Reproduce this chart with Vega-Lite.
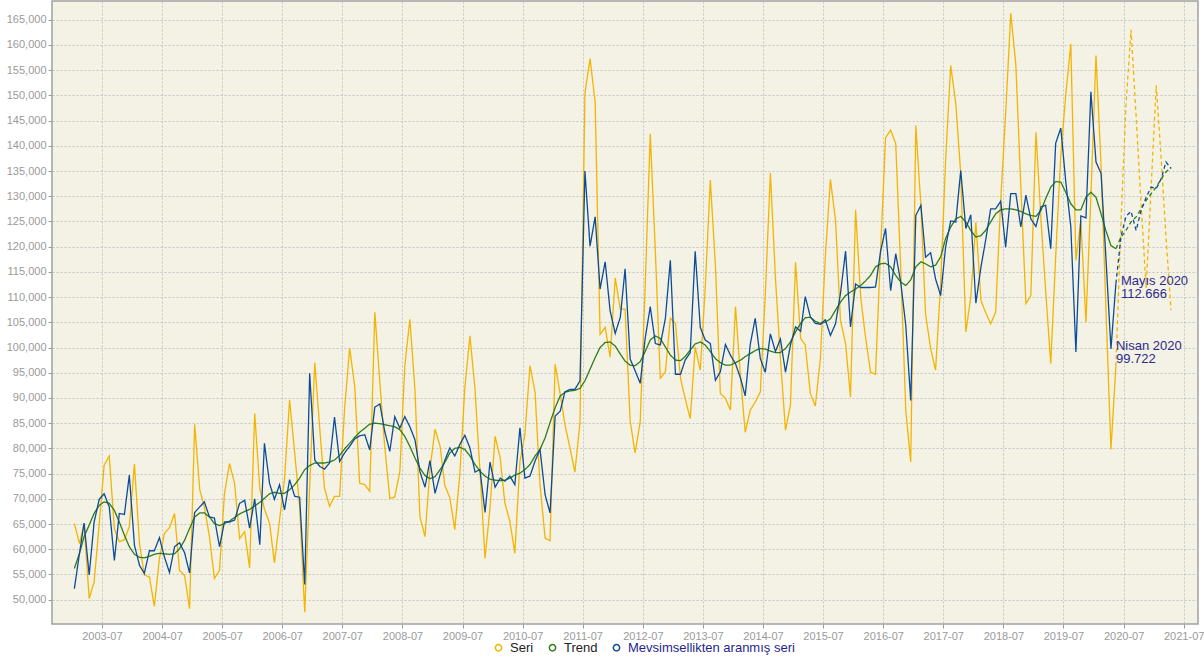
{
  "$schema": "https://vega.github.io/schema/vega-lite/v6.json",
  "width": 1146,
  "height": 623,
  "autosize": {"type": "none"},
  "padding": {"left": 52, "top": 1, "right": 6, "bottom": 38},
  "background": "#ffffff",
  "config": {
    "view": {"fill": "#f4f2e4", "stroke": "#a0a0a0", "strokeWidth": 1.5},
    "axis": {"gridColor": "#c4c4c4", "gridDash": [2, 2], "gridWidth": 1, "labelColor": "#9a9a9a", "labelFont": "Liberation Sans", "labelFontSize": 11, "tickColor": "#9a9a9a", "tickSize": 4, "domain": false, "title": null, "labelOverlap": false}
  },
  "layer": [
    {
      "data": {"values": [
{"t":"2003-01-15","Seri":65100,"Trend":56200,"MAS":52200,"p":"a"},
{"t":"2003-02-15","Seri":61100,"Trend":59200,"MAS":59200,"p":"a"},
{"t":"2003-03-15","Seri":65100,"Trend":62500,"MAS":65200,"p":"a"},
{"t":"2003-04-15","Seri":50200,"Trend":64800,"MAS":54900,"p":"a"},
{"t":"2003-05-15","Seri":53500,"Trend":67100,"MAS":65400,"p":"a"},
{"t":"2003-06-15","Seri":65000,"Trend":68700,"MAS":69900,"p":"a"},
{"t":"2003-07-15","Seri":76700,"Trend":69400,"MAS":71000,"p":"a"},
{"t":"2003-08-15","Seri":78500,"Trend":69100,"MAS":68400,"p":"a"},
{"t":"2003-09-15","Seri":64000,"Trend":67700,"MAS":57800,"p":"a"},
{"t":"2003-10-15","Seri":61500,"Trend":65400,"MAS":67100,"p":"a"},
{"t":"2003-11-15","Seri":61900,"Trend":62800,"MAS":66900,"p":"a"},
{"t":"2003-12-15","Seri":64500,"Trend":60500,"MAS":74700,"p":"a"},
{"t":"2004-01-15","Seri":76900,"Trend":59000,"MAS":60800,"p":"a"},
{"t":"2004-02-15","Seri":61000,"Trend":58400,"MAS":56800,"p":"a"},
{"t":"2004-03-15","Seri":54900,"Trend":58300,"MAS":55200,"p":"a"},
{"t":"2004-04-15","Seri":54500,"Trend":58600,"MAS":59700,"p":"a"},
{"t":"2004-05-15","Seri":48700,"Trend":59000,"MAS":59700,"p":"a"},
{"t":"2004-06-15","Seri":58200,"Trend":59200,"MAS":62300,"p":"a"},
{"t":"2004-07-15","Seri":63100,"Trend":59100,"MAS":58500,"p":"a"},
{"t":"2004-08-15","Seri":64300,"Trend":59000,"MAS":55400,"p":"a"},
{"t":"2004-09-15","Seri":67100,"Trend":59100,"MAS":60500,"p":"a"},
{"t":"2004-10-15","Seri":55800,"Trend":60100,"MAS":61300,"p":"a"},
{"t":"2004-11-15","Seri":54800,"Trend":61800,"MAS":59300,"p":"a"},
{"t":"2004-12-15","Seri":48200,"Trend":64100,"MAS":55300,"p":"a"},
{"t":"2005-01-15","Seri":84800,"Trend":66400,"MAS":67300,"p":"a"},
{"t":"2005-02-15","Seri":71800,"Trend":67200,"MAS":68400,"p":"a"},
{"t":"2005-03-15","Seri":68400,"Trend":67200,"MAS":69400,"p":"a"},
{"t":"2005-04-15","Seri":62500,"Trend":66400,"MAS":66400,"p":"a"},
{"t":"2005-05-15","Seri":54200,"Trend":65100,"MAS":66200,"p":"a"},
{"t":"2005-06-15","Seri":55800,"Trend":64700,"MAS":60500,"p":"a"},
{"t":"2005-07-15","Seri":71000,"Trend":65100,"MAS":65400,"p":"a"},
{"t":"2005-08-15","Seri":77000,"Trend":65600,"MAS":65400,"p":"a"},
{"t":"2005-09-15","Seri":73000,"Trend":66300,"MAS":65800,"p":"a"},
{"t":"2005-10-15","Seri":62100,"Trend":67000,"MAS":69100,"p":"a"},
{"t":"2005-11-15","Seri":63500,"Trend":67500,"MAS":69700,"p":"a"},
{"t":"2005-12-15","Seri":56300,"Trend":67900,"MAS":64200,"p":"a"},
{"t":"2006-01-15","Seri":86900,"Trend":68600,"MAS":70000,"p":"a"},
{"t":"2006-02-15","Seri":72000,"Trend":69300,"MAS":60900,"p":"a"},
{"t":"2006-03-15","Seri":68000,"Trend":70100,"MAS":81000,"p":"a"},
{"t":"2006-04-15","Seri":65200,"Trend":71000,"MAS":73100,"p":"a"},
{"t":"2006-05-15","Seri":57300,"Trend":71300,"MAS":69900,"p":"a"},
{"t":"2006-06-15","Seri":65800,"Trend":71100,"MAS":72800,"p":"a"},
{"t":"2006-07-15","Seri":73800,"Trend":71100,"MAS":67800,"p":"a"},
{"t":"2006-08-15","Seri":89600,"Trend":71800,"MAS":73800,"p":"a"},
{"t":"2006-09-15","Seri":79100,"Trend":72800,"MAS":70500,"p":"a"},
{"t":"2006-10-15","Seri":68500,"Trend":74100,"MAS":70300,"p":"a"},
{"t":"2006-11-15","Seri":47500,"Trend":75800,"MAS":53000,"p":"a"},
{"t":"2006-12-15","Seri":72500,"Trend":76600,"MAS":94900,"p":"a"},
{"t":"2007-01-15","Seri":97000,"Trend":77100,"MAS":77700,"p":"a"},
{"t":"2007-02-15","Seri":83700,"Trend":77100,"MAS":76400,"p":"a"},
{"t":"2007-03-15","Seri":72100,"Trend":77100,"MAS":75900,"p":"a"},
{"t":"2007-04-15","Seri":68500,"Trend":77300,"MAS":77100,"p":"a"},
{"t":"2007-05-15","Seri":70500,"Trend":77700,"MAS":86200,"p":"a"},
{"t":"2007-06-15","Seri":70500,"Trend":78600,"MAS":77400,"p":"a"},
{"t":"2007-07-15","Seri":87700,"Trend":79900,"MAS":79100,"p":"a"},
{"t":"2007-08-15","Seri":99900,"Trend":81000,"MAS":80400,"p":"a"},
{"t":"2007-09-15","Seri":92300,"Trend":82200,"MAS":81900,"p":"a"},
{"t":"2007-10-15","Seri":73100,"Trend":83200,"MAS":82500,"p":"a"},
{"t":"2007-11-15","Seri":72800,"Trend":84000,"MAS":82700,"p":"a"},
{"t":"2007-12-15","Seri":71500,"Trend":84800,"MAS":79700,"p":"a"},
{"t":"2008-01-15","Seri":107000,"Trend":85000,"MAS":88200,"p":"a"},
{"t":"2008-02-15","Seri":92900,"Trend":84900,"MAS":88800,"p":"a"},
{"t":"2008-03-15","Seri":80400,"Trend":84700,"MAS":83400,"p":"a"},
{"t":"2008-04-15","Seri":70100,"Trend":84500,"MAS":79400,"p":"a"},
{"t":"2008-05-15","Seri":70300,"Trend":84300,"MAS":86300,"p":"a"},
{"t":"2008-06-15","Seri":75400,"Trend":83700,"MAS":84000,"p":"a"},
{"t":"2008-07-15","Seri":96300,"Trend":82400,"MAS":86300,"p":"a"},
{"t":"2008-08-15","Seri":105600,"Trend":80400,"MAS":84300,"p":"a"},
{"t":"2008-09-15","Seri":91600,"Trend":78100,"MAS":81700,"p":"a"},
{"t":"2008-10-15","Seri":66500,"Trend":76100,"MAS":75400,"p":"a"},
{"t":"2008-11-15","Seri":62500,"Trend":74600,"MAS":72300,"p":"a"},
{"t":"2008-12-15","Seri":75800,"Trend":74000,"MAS":77600,"p":"a"},
{"t":"2009-01-15","Seri":83800,"Trend":74400,"MAS":71100,"p":"a"},
{"t":"2009-02-15","Seri":80400,"Trend":75800,"MAS":74800,"p":"a"},
{"t":"2009-03-15","Seri":72700,"Trend":77200,"MAS":77600,"p":"a"},
{"t":"2009-04-15","Seri":70200,"Trend":79100,"MAS":80100,"p":"a"},
{"t":"2009-05-15","Seri":63900,"Trend":80000,"MAS":78500,"p":"a"},
{"t":"2009-06-15","Seri":75000,"Trend":80200,"MAS":80800,"p":"a"},
{"t":"2009-07-15","Seri":92000,"Trend":79800,"MAS":82600,"p":"a"},
{"t":"2009-08-15","Seri":102300,"Trend":78500,"MAS":80100,"p":"a"},
{"t":"2009-09-15","Seri":91700,"Trend":76800,"MAS":75300,"p":"a"},
{"t":"2009-10-15","Seri":75500,"Trend":75500,"MAS":75800,"p":"a"},
{"t":"2009-11-15","Seri":58200,"Trend":74500,"MAS":67300,"p":"a"},
{"t":"2009-12-15","Seri":68200,"Trend":73900,"MAS":77300,"p":"a"},
{"t":"2010-01-15","Seri":82400,"Trend":73700,"MAS":72300,"p":"a"},
{"t":"2010-02-15","Seri":78100,"Trend":73600,"MAS":74100,"p":"a"},
{"t":"2010-03-15","Seri":69200,"Trend":73700,"MAS":73500,"p":"a"},
{"t":"2010-04-15","Seri":65500,"Trend":74100,"MAS":74500,"p":"a"},
{"t":"2010-05-15","Seri":59200,"Trend":74700,"MAS":72800,"p":"a"},
{"t":"2010-06-15","Seri":77400,"Trend":75100,"MAS":84100,"p":"a"},
{"t":"2010-07-15","Seri":82700,"Trend":75800,"MAS":74100,"p":"a"},
{"t":"2010-08-15","Seri":96400,"Trend":76800,"MAS":74500,"p":"a"},
{"t":"2010-09-15","Seri":91100,"Trend":78500,"MAS":77500,"p":"a"},
{"t":"2010-10-15","Seri":72800,"Trend":79800,"MAS":79800,"p":"a"},
{"t":"2010-11-15","Seri":62200,"Trend":82100,"MAS":70800,"p":"a"},
{"t":"2010-12-15","Seri":61700,"Trend":85100,"MAS":67200,"p":"a"},
{"t":"2011-01-15","Seri":96700,"Trend":88100,"MAS":86400,"p":"a"},
{"t":"2011-02-15","Seri":90700,"Trend":90400,"MAS":87400,"p":"a"},
{"t":"2011-03-15","Seri":84800,"Trend":91100,"MAS":91200,"p":"a"},
{"t":"2011-04-15","Seri":80100,"Trend":91400,"MAS":91700,"p":"a"},
{"t":"2011-05-15","Seri":75300,"Trend":91500,"MAS":91700,"p":"a"},
{"t":"2011-06-15","Seri":85100,"Trend":91900,"MAS":93400,"p":"a"},
{"t":"2011-07-15","Seri":150400,"Trend":93400,"MAS":135000,"p":"a"},
{"t":"2011-08-15","Seri":157300,"Trend":95700,"MAS":120100,"p":"a"},
{"t":"2011-09-15","Seri":148700,"Trend":98000,"MAS":125900,"p":"a"},
{"t":"2011-10-15","Seri":102600,"Trend":100000,"MAS":111600,"p":"a"},
{"t":"2011-11-15","Seri":104000,"Trend":101000,"MAS":117000,"p":"a"},
{"t":"2011-12-15","Seri":98100,"Trend":101100,"MAS":107300,"p":"a"},
{"t":"2012-01-15","Seri":113800,"Trend":100300,"MAS":102800,"p":"a"},
{"t":"2012-02-15","Seri":107600,"Trend":98700,"MAS":106000,"p":"a"},
{"t":"2012-03-15","Seri":107600,"Trend":97300,"MAS":115600,"p":"a"},
{"t":"2012-04-15","Seri":85400,"Trend":96500,"MAS":97700,"p":"a"},
{"t":"2012-05-15","Seri":79100,"Trend":96400,"MAS":95400,"p":"a"},
{"t":"2012-06-15","Seri":85300,"Trend":97200,"MAS":92900,"p":"a"},
{"t":"2012-07-15","Seri":112000,"Trend":99200,"MAS":101800,"p":"a"},
{"t":"2012-08-15","Seri":142400,"Trend":101500,"MAS":108100,"p":"a"},
{"t":"2012-09-15","Seri":119000,"Trend":102300,"MAS":100800,"p":"a"},
{"t":"2012-10-15","Seri":93900,"Trend":101800,"MAS":100500,"p":"a"},
{"t":"2012-11-15","Seri":95200,"Trend":100100,"MAS":105800,"p":"a"},
{"t":"2012-12-15","Seri":105800,"Trend":98500,"MAS":117300,"p":"a"},
{"t":"2013-01-15","Seri":104800,"Trend":97500,"MAS":94700,"p":"a"},
{"t":"2013-02-15","Seri":93900,"Trend":97400,"MAS":94700,"p":"a"},
{"t":"2013-03-15","Seri":89900,"Trend":98200,"MAS":97500,"p":"a"},
{"t":"2013-04-15","Seri":85900,"Trend":99500,"MAS":99000,"p":"a"},
{"t":"2013-05-15","Seri":100100,"Trend":100700,"MAS":119100,"p":"a"},
{"t":"2013-06-15","Seri":95500,"Trend":101100,"MAS":104000,"p":"a"},
{"t":"2013-07-15","Seri":111700,"Trend":100500,"MAS":101500,"p":"a"},
{"t":"2013-08-15","Seri":133200,"Trend":99200,"MAS":100800,"p":"a"},
{"t":"2013-09-15","Seri":116300,"Trend":97800,"MAS":93500,"p":"a"},
{"t":"2013-10-15","Seri":90900,"Trend":97000,"MAS":95200,"p":"a"},
{"t":"2013-11-15","Seri":89900,"Trend":96500,"MAS":100600,"p":"a"},
{"t":"2013-12-15","Seri":87600,"Trend":96500,"MAS":98500,"p":"a"},
{"t":"2014-01-15","Seri":108100,"Trend":97000,"MAS":96800,"p":"a"},
{"t":"2014-02-15","Seri":93900,"Trend":97500,"MAS":93900,"p":"a"},
{"t":"2014-03-15","Seri":83200,"Trend":98200,"MAS":90400,"p":"a"},
{"t":"2014-04-15","Seri":87600,"Trend":98800,"MAS":100700,"p":"a"},
{"t":"2014-05-15","Seri":89200,"Trend":99400,"MAS":105800,"p":"a"},
{"t":"2014-06-15","Seri":91200,"Trend":99800,"MAS":97800,"p":"a"},
{"t":"2014-07-15","Seri":110400,"Trend":99700,"MAS":95100,"p":"a"},
{"t":"2014-08-15","Seri":134600,"Trend":99300,"MAS":102700,"p":"a"},
{"t":"2014-09-15","Seri":113700,"Trend":99000,"MAS":99200,"p":"a"},
{"t":"2014-10-15","Seri":97800,"Trend":99000,"MAS":101700,"p":"a"},
{"t":"2014-11-15","Seri":83600,"Trend":99800,"MAS":95100,"p":"a"},
{"t":"2014-12-15","Seri":88600,"Trend":101100,"MAS":100500,"p":"a"},
{"t":"2015-01-15","Seri":116900,"Trend":103100,"MAS":104100,"p":"a"},
{"t":"2015-02-15","Seri":101800,"Trend":104800,"MAS":103200,"p":"a"},
{"t":"2015-03-15","Seri":100500,"Trend":105900,"MAS":110100,"p":"a"},
{"t":"2015-04-15","Seri":90900,"Trend":106000,"MAS":106100,"p":"a"},
{"t":"2015-05-15","Seri":88400,"Trend":105200,"MAS":104800,"p":"a"},
{"t":"2015-06-15","Seri":97800,"Trend":104800,"MAS":104600,"p":"a"},
{"t":"2015-07-15","Seri":118000,"Trend":105000,"MAS":105500,"p":"a"},
{"t":"2015-08-15","Seri":133300,"Trend":105700,"MAS":102400,"p":"a"},
{"t":"2015-09-15","Seri":125200,"Trend":107400,"MAS":104700,"p":"a"},
{"t":"2015-10-15","Seri":105400,"Trend":109000,"MAS":110700,"p":"a"},
{"t":"2015-11-15","Seri":100800,"Trend":110300,"MAS":119100,"p":"a"},
{"t":"2015-12-15","Seri":90200,"Trend":111000,"MAS":104100,"p":"a"},
{"t":"2016-01-15","Seri":127300,"Trend":111600,"MAS":112600,"p":"a"},
{"t":"2016-02-15","Seri":110000,"Trend":112300,"MAS":111900,"p":"a"},
{"t":"2016-03-15","Seri":102100,"Trend":113200,"MAS":111900,"p":"a"},
{"t":"2016-04-15","Seri":95100,"Trend":114300,"MAS":111900,"p":"a"},
{"t":"2016-05-15","Seri":94700,"Trend":116000,"MAS":112000,"p":"a"},
{"t":"2016-06-15","Seri":119300,"Trend":116600,"MAS":119100,"p":"a"},
{"t":"2016-07-15","Seri":141600,"Trend":116700,"MAS":123600,"p":"a"},
{"t":"2016-08-15","Seri":143100,"Trend":116000,"MAS":111300,"p":"a"},
{"t":"2016-09-15","Seri":140400,"Trend":114300,"MAS":118600,"p":"a"},
{"t":"2016-10-15","Seri":116000,"Trend":113000,"MAS":113000,"p":"a"},
{"t":"2016-11-15","Seri":87500,"Trend":112300,"MAS":104400,"p":"a"},
{"t":"2016-12-15","Seri":77300,"Trend":113400,"MAS":89500,"p":"a"},
{"t":"2017-01-15","Seri":144000,"Trend":116000,"MAS":126200,"p":"a"},
{"t":"2017-02-15","Seri":128000,"Trend":117000,"MAS":128200,"p":"a"},
{"t":"2017-03-15","Seri":106700,"Trend":116600,"MAS":117900,"p":"a"},
{"t":"2017-04-15","Seri":99800,"Trend":116000,"MAS":118800,"p":"a"},
{"t":"2017-05-15","Seri":95500,"Trend":116300,"MAS":113600,"p":"a"},
{"t":"2017-06-15","Seri":112600,"Trend":118000,"MAS":110300,"p":"a"},
{"t":"2017-07-15","Seri":137100,"Trend":121600,"MAS":119900,"p":"a"},
{"t":"2017-08-15","Seri":155900,"Trend":123900,"MAS":125100,"p":"a"},
{"t":"2017-09-15","Seri":148300,"Trend":125500,"MAS":124900,"p":"a"},
{"t":"2017-10-15","Seri":134500,"Trend":126000,"MAS":135100,"p":"a"},
{"t":"2017-11-15","Seri":103100,"Trend":124900,"MAS":123600,"p":"a"},
{"t":"2017-12-15","Seri":110000,"Trend":123200,"MAS":126300,"p":"a"},
{"t":"2018-01-15","Seri":124900,"Trend":121900,"MAS":108800,"p":"a"},
{"t":"2018-02-15","Seri":109300,"Trend":122200,"MAS":116000,"p":"a"},
{"t":"2018-03-15","Seri":107000,"Trend":123200,"MAS":121200,"p":"a"},
{"t":"2018-04-15","Seri":104700,"Trend":124900,"MAS":127500,"p":"a"},
{"t":"2018-05-15","Seri":107000,"Trend":126500,"MAS":127500,"p":"a"},
{"t":"2018-06-15","Seri":129200,"Trend":127300,"MAS":129000,"p":"a"},
{"t":"2018-07-15","Seri":146400,"Trend":127500,"MAS":119900,"p":"a"},
{"t":"2018-08-15","Seri":166300,"Trend":127500,"MAS":130500,"p":"a"},
{"t":"2018-09-15","Seri":156000,"Trend":127300,"MAS":130500,"p":"a"},
{"t":"2018-10-15","Seri":132000,"Trend":127000,"MAS":123900,"p":"a"},
{"t":"2018-11-15","Seri":108700,"Trend":126500,"MAS":130200,"p":"a"},
{"t":"2018-12-15","Seri":110300,"Trend":126200,"MAS":125500,"p":"a"},
{"t":"2019-01-15","Seri":142700,"Trend":126000,"MAS":124000,"p":"a"},
{"t":"2019-02-15","Seri":125200,"Trend":127200,"MAS":127900,"p":"a"},
{"t":"2019-03-15","Seri":111300,"Trend":129500,"MAS":128200,"p":"a"},
{"t":"2019-04-15","Seri":96800,"Trend":131800,"MAS":119600,"p":"a"},
{"t":"2019-05-15","Seri":118000,"Trend":132900,"MAS":140500,"p":"a"},
{"t":"2019-06-15","Seri":138000,"Trend":132800,"MAS":143500,"p":"a"},
{"t":"2019-07-15","Seri":150000,"Trend":130800,"MAS":133000,"p":"a"},
{"t":"2019-08-15","Seri":160200,"Trend":128500,"MAS":124000,"p":"a"},
{"t":"2019-09-15","Seri":117300,"Trend":127300,"MAS":99100,"p":"a"},
{"t":"2019-10-15","Seri":125200,"Trend":127300,"MAS":126100,"p":"a"},
{"t":"2019-11-15","Seri":105000,"Trend":129800,"MAS":125700,"p":"a"},
{"t":"2019-12-15","Seri":130000,"Trend":130800,"MAS":150700,"p":"a"},
{"t":"2020-01-15","Seri":157900,"Trend":129800,"MAS":136800,"p":"a"},
{"t":"2020-02-15","Seri":136000,"Trend":126500,"MAS":134500,"p":"a"},
{"t":"2020-03-15","Seri":108000,"Trend":123200,"MAS":118000,"p":"a"},
{"t":"2020-04-15","Seri":79800,"Trend":120200,"MAS":99722,"p":"a"},
{"t":"2020-05-15","Seri":96300,"Trend":119600,"MAS":112666,"p":"a"},
{"t":"2020-05-15","Seri":96300,"Trend":119600,"MAS":112666,"p":"f"},
{"t":"2020-06-15","Seri":125000,"Trend":121900,"MAS":122000,"p":"f"},
{"t":"2020-07-15","Seri":148000,"Trend":123200,"MAS":126000,"p":"f"},
{"t":"2020-08-15","Seri":163000,"Trend":124900,"MAS":127000,"p":"f"},
{"t":"2020-09-15","Seri":145800,"Trend":125900,"MAS":123200,"p":"f"},
{"t":"2020-10-15","Seri":128500,"Trend":127500,"MAS":127200,"p":"f"},
{"t":"2020-11-15","Seri":111800,"Trend":129200,"MAS":129800,"p":"f"},
{"t":"2020-12-15","Seri":131600,"Trend":130500,"MAS":131800,"p":"f"},
{"t":"2021-01-15","Seri":152000,"Trend":131800,"MAS":131500,"p":"f"},
{"t":"2021-02-15","Seri":137000,"Trend":133500,"MAS":133500,"p":"f"},
{"t":"2021-03-15","Seri":122200,"Trend":134800,"MAS":136800,"p":"f"},
{"t":"2021-04-15","Seri":107400,"Trend":135700,"MAS":135500,"p":"f"}
      ]},
      "transform": [{"fold": ["Seri", "Trend", "MAS"], "as": ["s", "v"]}],
      "mark": {"type": "line", "strokeWidth": 1.3, "clip": true},
      "encoding": {
        "x": {
          "field": "t", "type": "temporal",
          "scale": {"type": "utc", "domain": [{"year": 2002, "month": 9, "date": 1, "utc": true}, {"year": 2021, "month": 9, "date": 26, "utc": true}]},
          "axis": {"format": "%Y-%m", "labelPadding": 2, "tickCount": 40, "values": [
            {"year": 2003, "month": 7, "date": 1, "utc": true}, {"year": 2004, "month": 7, "date": 1, "utc": true},
            {"year": 2005, "month": 7, "date": 1, "utc": true}, {"year": 2006, "month": 7, "date": 1, "utc": true},
            {"year": 2007, "month": 7, "date": 1, "utc": true}, {"year": 2008, "month": 7, "date": 1, "utc": true},
            {"year": 2009, "month": 7, "date": 1, "utc": true}, {"year": 2010, "month": 7, "date": 1, "utc": true},
            {"year": 2011, "month": 7, "date": 1, "utc": true}, {"year": 2012, "month": 7, "date": 1, "utc": true},
            {"year": 2013, "month": 7, "date": 1, "utc": true}, {"year": 2014, "month": 7, "date": 1, "utc": true},
            {"year": 2015, "month": 7, "date": 1, "utc": true}, {"year": 2016, "month": 7, "date": 1, "utc": true},
            {"year": 2017, "month": 7, "date": 1, "utc": true}, {"year": 2018, "month": 7, "date": 1, "utc": true},
            {"year": 2019, "month": 7, "date": 1, "utc": true}, {"year": 2020, "month": 7, "date": 1, "utc": true},
            {"year": 2021, "month": 7, "date": 1, "utc": true}]}
        },
        "y": {
          "field": "v", "type": "quantitative",
          "scale": {"domain": [45180, 168710], "nice": false, "zero": false},
          "axis": {"format": ",d", "tickCount": 50, "values": [50000,55000,60000,65000,70000,75000,80000,85000,90000,95000,100000,105000,110000,115000,120000,125000,130000,135000,140000,145000,150000,155000,160000,165000], "labelPadding": 2}
        },
        "color": {
          "field": "s", "type": "nominal",
          "scale": {"domain": ["Seri", "Trend", "MAS"], "range": ["#f4b400", "#2f7d16", "#0b4c9a"]},
          "legend": {
            "orient": "none", "legendX": 440, "legendY": 640, "direction": "horizontal", "title": null,
            "symbolType": "circle", "symbolSize": 40, "symbolStrokeWidth": 1.5, "symbolFillColor": "transparent",
            "labelFont": "Liberation Sans", "labelFontSize": 13, "labelOffset": 5, "columnPadding": 12, "padding": 0, "labelLimit": 400,
            "labelExpr": "datum.label == 'MAS' ? 'Mevsimsellikten aranmış seri' : datum.label",
            "encode": {"labels": {"update": {"fill": {"signal": "datum.value == 'MAS' ? '#1f1f8f' : '#222222'"}}}}
          }
        },
        "strokeDash": {
          "field": "p", "type": "nominal",
          "scale": {"domain": ["a", "f"], "range": [[1, 0], [4, 3]]},
          "legend": null
        }
      }
    },
    {
      "data": {"values": [
        {"t": "2020-04-15", "v": 99722, "label": "Nisan 2020\n99.722"},
        {"t": "2020-05-15", "v": 112666, "label": "Mayıs 2020\n112.666"}
      ]},
      "mark": {"type": "text", "align": "left", "baseline": "top", "dx": 5, "dy": -9, "font": "Liberation Sans", "fontSize": 13, "lineHeight": 13, "lineBreak": "\n", "color": "#2b2b8c"},
      "encoding": {
        "x": {"field": "t", "type": "temporal"},
        "y": {"field": "v", "type": "quantitative"},
        "text": {"field": "label"}
      }
    }
  ]
}
